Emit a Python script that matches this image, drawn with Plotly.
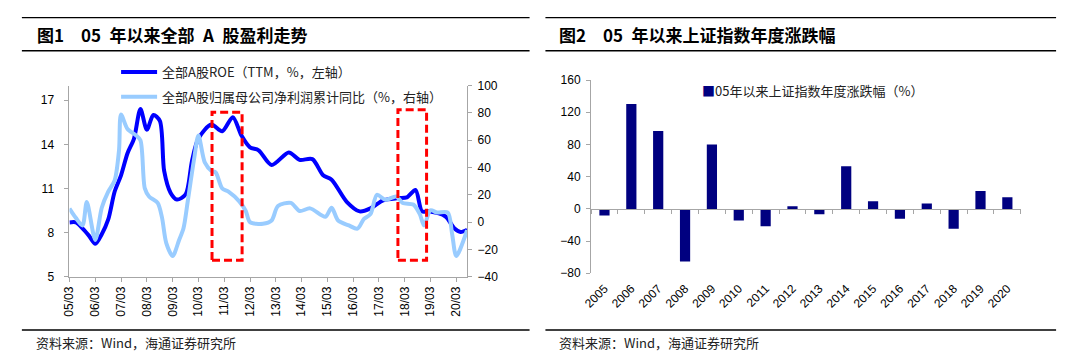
import plotly.graph_objects as go

W, H = 1066, 362

# ---------------- Left chart data ----------------
roe_dates = ["2005-03", "2005-06", "2005-09", "2005-12", "2006-03", "2006-06", "2006-09", "2006-12",
             "2007-03", "2007-06", "2007-09", "2007-12", "2008-03", "2008-06", "2008-09", "2008-11",
             "2009-02", "2009-05", "2009-09", "2009-12", "2010-03", "2010-09", "2011-02", "2011-07",
             "2011-11", "2012-03", "2012-07", "2013-01", "2013-09", "2014-02", "2014-08", "2015-01",
             "2015-05", "2015-12", "2016-06", "2016-11", "2017-05", "2017-12", "2018-04", "2018-08",
             "2018-11", "2019-02", "2019-10", "2020-02", "2020-05", "2020-08"]
roe_values = [8.7, 8.7, 8.3, 7.8, 7.25, 7.9, 8.9, 10.8,
              11.9, 13.4, 14.4, 16.4, 15.0, 16.0, 15.6, 12.2,
              10.7, 10.25, 10.6, 12.9, 14.4, 15.35, 14.9, 15.85,
              14.6, 13.8, 13.6, 12.6, 13.45, 12.95, 13.0, 11.9,
              11.6, 10.1, 9.45, 9.65, 10.2, 10.35, 10.4, 10.9,
              9.45, 9.45, 9.1, 8.3, 8.05, 8.2]

np_dates = ["2005-03", "2005-06", "2005-09", "2005-11", "2006-03", "2006-06", "2006-09", "2006-12",
            "2007-02", "2007-03", "2007-06", "2007-10", "2007-12", "2008-02", "2008-04", "2008-08",
            "2008-10", "2008-12", "2009-03", "2009-06", "2009-08", "2009-10", "2010-01", "2010-03",
            "2010-06", "2010-09", "2010-11", "2011-02", "2011-05", "2011-10", "2012-01", "2012-03",
            "2012-09", "2013-01", "2013-04", "2013-10", "2014-02", "2014-07", "2015-02", "2015-05",
            "2015-08", "2016-01", "2016-05", "2016-08", "2016-11", "2017-02", "2017-06", "2017-11",
            "2018-02", "2018-07", "2018-10", "2018-12", "2019-03", "2019-06", "2019-11", "2020-01",
            "2020-03", "2020-08"]
np_values = [10.0, 3.0, -2.4, 14.8, -13.0, 10.6, 22.3, 30.6,
             52.9, 78.8, 68.2, 63.5, 60.0, 24.7, 18.8, 14.1,
             3.5, -15.3, -24.7, -13.0, -4.7, 15.2, 47.0, 63.5,
             43.5, 37.6, 36.4, 24.7, 22.3, 15.2, 8.2, 0.0,
             -1.2, 1.2, 11.8, 14.1, 8.2, 10.1, 4.0, 10.6,
             1.2, -2.4, -4.7, 2.4, 5.9, 20.0, 16.4, 18.8,
             14.1, 12.9, 5.9, -2.4, 8.7, 7.1, 7.1, -8.3,
             -24.7, -5.9]

box_x0 = ["2010-09-10", "2017-11-25"]
box_x1 = ["2011-11-10", "2019-01-05"]
box_top = [80.5, 82.3]
box_bottom = [-27.8, -27.8]

left_ticks = [5, 8, 11, 14, 17]
right_ticks = [-40, -20, 0, 20, 40, 60, 80, 100]

# ---------------- Right chart data ----------------
years = [str(y) for y in range(2005, 2021)]
sh_change = [-8.3, 130.4, 96.7, -65.4, 80.0, -14.3, -21.7, 3.2,
             -6.7, 52.9, 9.4, -12.3, 6.6, -24.6, 22.3, 14.5]
bar_ticks = [-80, -40, 0, 40, 80, 120, 160]

# ---------------- helpers ----------------
def px(x):
    return x / W

def py(y):
    return 1 - y / H

AX = "#A6A6A6"
TXT = "#000000"
FONT = "Liberation Sans, Arial, sans-serif"
CJK = "Noto Sans CJK SC, sans-serif"
SP = "\u2002"  # en space

fig = go.Figure()

fig.add_trace(go.Scatter(
    x=roe_dates, y=roe_values, mode="lines",
    line=dict(color="#0000FF", width=4, shape="spline", smoothing=0.8),
    name="全部A股ROE（TTM，%，左轴）", xaxis="x", yaxis="y",
    legend="legend", legendgroup="a"))
fig.add_trace(go.Scatter(
    x=np_dates, y=np_values, mode="lines",
    line=dict(color="#99CCFF", width=4, shape="spline", smoothing=0.8),
    name="全部A股归属母公司净利润累计同比（%，右轴）", xaxis="x", yaxis="y2",
    legend="legend", legendgroup="b"))

fig.add_trace(go.Bar(
    x=years, y=sh_change, marker=dict(color="#000080", line=dict(width=0)),
    name="05年以来上证指数年度涨跌幅（%）", xaxis="x3", yaxis="y3",
    showlegend=False))
# empty trace to register the zero-crossing category axis
fig.add_trace(go.Scatter(x=[], y=[], xaxis="x4", yaxis="y3", showlegend=False))

# Left plot geometry
lx0, lx1 = px(61), px(462)
ly0, ly1 = py(280.7), py(81.7)
# Right plot geometry
rx0, rx1 = px(587), px(1020.4)
ry0, ry1 = py(277), py(76)

bar_range = [-80, 160]
zero_pos = ry0 + (0 - bar_range[0]) / (bar_range[1] - bar_range[0]) * (ry1 - ry0)

tickfont = dict(family=FONT, size=12, color=TXT)

fig.update_layout(
    width=W, height=H, margin=dict(l=0, r=0, t=0, b=0),
    paper_bgcolor="white", plot_bgcolor="white",
    showlegend=True, hovermode=False,
    xaxis=dict(domain=[lx0, lx1], anchor="y", type="date",
               range=["2005-03-01", "2020-08-01"],
               tick0="2005-03-01", dtick="M12", tickformat="%y/%m",
               tickangle=-90, ticks="outside", ticklen=4, tickcolor=AX,
               showline=True, linecolor=AX, linewidth=1, showgrid=False,
               zeroline=False, tickfont=tickfont),
    yaxis=dict(domain=[ly0, ly1], anchor="x", range=[5, 18],
               tickvals=left_ticks, ticks="outside", ticklen=4, tickcolor=AX,
               showline=True, linecolor=AX, linewidth=1, showgrid=False,
               zeroline=False, tickfont=tickfont, ticklabelstandoff=8),
    yaxis2=dict(overlaying="y", side="right", anchor="x", range=[-40, 100],
                tickvals=right_ticks, ticks="outside", ticklen=4, tickcolor=AX,
                showline=True, linecolor=AX, linewidth=1, showgrid=False,
                zeroline=False, tickfont=tickfont, ticklabelstandoff=3),
    xaxis3=dict(domain=[rx0, rx1], anchor="y3", type="category",
                range=[-0.5, len(years) - 0.5], tickangle=-45,
                ticks="", showline=False, showgrid=False, zeroline=False,
                tickfont=tickfont, ticklabelstandoff=5),
    xaxis4=dict(overlaying="x3", anchor="free", position=zero_pos,
                range=[-0.5, len(years) - 0.5], tick0=-0.5, dtick=1,
                ticks="outside", ticklen=4, tickcolor=AX, showticklabels=False,
                showline=True, linecolor=AX, linewidth=1, showgrid=False,
                zeroline=False),
    yaxis3=dict(domain=[ry0, ry1], anchor="x3", range=bar_range,
                tickvals=bar_ticks, ticks="outside", ticklen=4, tickcolor=AX,
                showline=True, linecolor=AX, linewidth=1, showgrid=False,
                zeroline=False, tickfont=tickfont, ticklabelstandoff=3),
    bargap=0.62,
    legend=dict(x=px(108), y=py(52), xanchor="left", yanchor="top",
                bgcolor="rgba(0,0,0,0)", font=dict(family=CJK, size=13, color="#222"),
                tracegroupgap=5, traceorder="grouped", itemwidth=36),
)

shapes = []
# red dashed boxes
for i in range(len(box_x0)):
    shapes.append(dict(type="rect", xref="x", yref="y2",
                       x0=box_x0[i], x1=box_x1[i], y0=box_bottom[i], y1=box_top[i],
                       line=dict(color="#FF0000", width=3, dash="8px,4px"),
                       fillcolor="rgba(0,0,0,0)", layer="above"))
# title / footer rules
for (a, b) in [(13, 525), (541, 1056)]:
    for yy in [11, 45.5]:
        shapes.append(dict(type="line", xref="paper", yref="paper",
                           x0=px(a), x1=px(b), y0=py(yy), y1=py(yy),
                           line=dict(color="#000000", width=1.3)))
    shapes.append(dict(type="line", xref="paper", yref="paper",
                       x0=px(a), x1=px(b), y0=py(336), y1=py(336),
                       line=dict(color="#000000", width=1.3)))
fig.update_layout(shapes=shapes)

title_left = "图1" + SP + SP + "05" + SP + "年以来全部" + SP + "A" + SP + "股盈利走势"
title_right = "图2" + SP + SP + "05" + SP + "年以来上证指数年度涨跌幅"

annotations = [
    dict(text="<b>" + title_left + "</b>", x=px(26), y=py(29),
         xanchor="left", yanchor="middle", font=dict(family=CJK, size=17, color="#000")),
    dict(text="<b>" + title_right + "</b>", x=px(553), y=py(29),
         xanchor="left", yanchor="middle", font=dict(family=CJK, size=17, color="#000")),
    dict(text="资料来源：Wind，海通证券研究所", x=px(25), y=py(349),
         xanchor="left", yanchor="middle", font=dict(family=CJK, size=13, color="#222")),
    dict(text="资料来源：Wind，海通证券研究所", x=px(553), y=py(349),
         xanchor="left", yanchor="middle", font=dict(family=CJK, size=13, color="#222")),
    dict(text="<span style='color:#000080'>■</span>05年以来上证指数年度涨跌幅（%）",
         x=px(697), y=py(87), xanchor="left", yanchor="middle",
         font=dict(family=CJK, size=13, color="#222")),
]
for a in annotations:
    a.update(xref="paper", yref="paper", showarrow=False)
fig.update_layout(annotations=annotations)

fig.write_html("out.html", config={"displayModeBar": False, "staticPlot": True},
               post_script="document.body.style.margin='0';document.body.style.overflow='hidden';")
